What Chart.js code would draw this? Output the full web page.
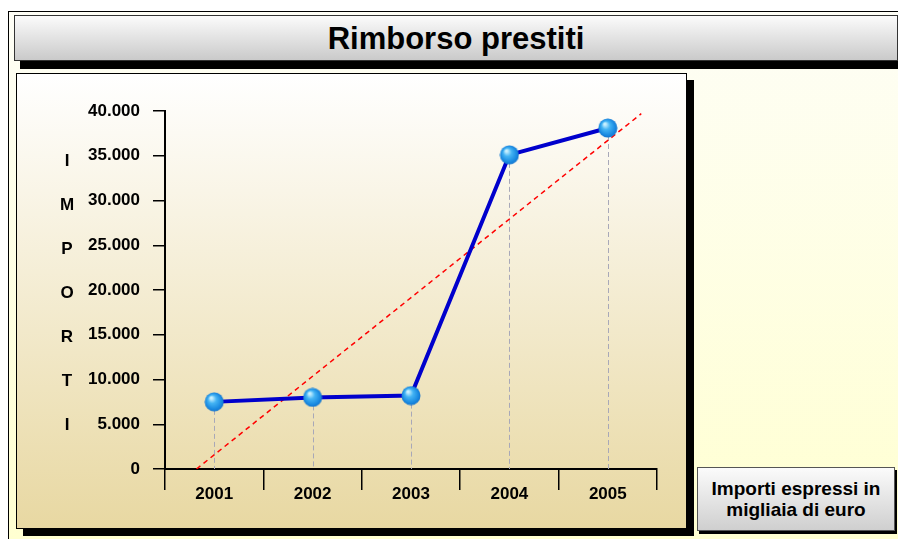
<!DOCTYPE html>
<html>
<head>
<meta charset="utf-8">
<script src="https://cdn.jsdelivr.net/npm/chart.js@4/dist/chart.umd.min.js"></script>
<style>
  body { margin: 0; width: 898px; height: 539px; background: #fff; overflow: hidden; font-family: "Liberation Sans", Arial, sans-serif; }
  #frame { position: absolute; left: 8px; top: 11px; width: 900px; height: 540px; border-left: 1px solid #000; border-top: 1px solid #000;
           background: linear-gradient(#fefef6, #ffffd0); }
  #title { position: absolute; left: 14px; top: 15px; width: 882px; height: 44px; border: 1px solid #333;
           background: linear-gradient(#fbfbfb, #cacaca); box-shadow: 6px 8px 0 #000;
           text-align: center; font-weight: bold; font-size: 31px; line-height: 46px; color: #000; }
  #panel { position: absolute; left: 16px; top: 73px; width: 669px; height: 454px; border: 1px solid #000;
           background: linear-gradient(#ffffff, #e8d8a2); box-shadow: 7px 7px 0 #000; }
  #note { position: absolute; left: 697px; top: 467px; width: 198px; height: 64px; border: 1px solid #555;
          background: linear-gradient(#fbfbfb, #cfcfcf); box-shadow: 2px 3px 0 #000;
          text-align: center; font-weight: bold; font-size: 19px; line-height: 21px; box-sizing: border-box; }
  #note div { padding-top: 10px; }
</style>
</head>
<body>
<div id="frame"></div>
<div id="title">Rimborso prestiti</div>
<div id="panel"><canvas id="chart" width="669" height="454"></canvas></div>
<div id="note"><div>Importi espressi in<br>migliaia di euro</div></div>
<script>
var anni = ['2001', '2002', '2003', '2004', '2005'];
var importi = [7500, 8000, 8200, 35100, 38100];
// linea di tendenza (inizio e fine)
var tendenzaX = [-0.18, 4.34];
var tendenzaY = [0, 39700];
var asseTitolo = ['I', 'M', 'P', 'O', 'R', 'T', 'I'];
var yMax = 40000, yStep = 5000;

function formatta(v) {
    return v.toString().replace(/\B(?=(\d{3})+(?!\d))/g, '.');
}

// pallina blu
var sfera = document.createElement('canvas');
sfera.width = 20; sfera.height = 20;
var sc = sfera.getContext('2d');
var g = sc.createRadialGradient(7, 6, 1, 10, 10, 10);
g.addColorStop(0, '#c8f0ff');
g.addColorStop(0.35, '#44b4f4');
g.addColorStop(0.8, '#1888e0');
g.addColorStop(1, '#1470c8');
sc.fillStyle = g;
sc.beginPath(); sc.arc(10, 10, 9.5, 0, Math.PI * 2); sc.fill();

var lineeVerticali = {
    id: 'lineeVerticali',
    beforeDatasetsDraw: function(chart) {
        var ctx = chart.ctx;
        var y0 = chart.scales.y.getPixelForValue(0);
        ctx.save();
        ctx.strokeStyle = '#a8a8b8';
        ctx.lineWidth = 1;
        ctx.setLineDash([5, 3]);
        chart.getDatasetMeta(1).data.forEach(function(p) {
            ctx.beginPath();
            ctx.moveTo(Math.round(p.x) + 0.5, p.y);
            ctx.lineTo(Math.round(p.x) + 0.5, y0);
            ctx.stroke();
        });
        ctx.restore();
    }
};

var titoloVerticale = {
    id: 'titoloVerticale',
    afterDraw: function(chart) {
        var ctx = chart.ctx;
        var a = chart.chartArea;
        var passo = (a.bottom - a.top) * 44 / 358;
        var centro = (a.top + a.bottom) / 2 + 3;
        ctx.save();
        ctx.fillStyle = '#000';
        ctx.font = 'bold 17px "Liberation Sans", Arial, sans-serif';
        ctx.textAlign = 'center';
        ctx.textBaseline = 'middle';
        asseTitolo.forEach(function(l, i) {
            ctx.fillText(l, 50, centro + (i - 3) * passo);
        });
        ctx.restore();
    }
};

new Chart(document.getElementById('chart').getContext('2d'), {
    type: 'line',
    data: {
        labels: anni,
        datasets: [{
            label: 'Tendenza',
            data: tendenzaX.map(function(x, i) { return { x: x, y: tendenzaY[i] }; }),
            xAxisID: 'xt',
            borderColor: '#ff0000',
            borderWidth: 1.5,
            borderDash: [5, 4],
            pointRadius: 0,
            fill: false,
            order: 2
        }, {
            label: 'Rimborso',
            data: importi,
            borderColor: '#0000cc',
            borderWidth: 4,
            pointStyle: sfera,
            pointRadius: 10,
            fill: false,
            order: 1
        }]
    },
    options: {
        responsive: false,
        animation: false,
        layout: { padding: { top: 37, right: 29, left: 0, bottom: 0 } },
        plugins: { legend: { display: false }, tooltip: { enabled: false } },
        scales: {
            x: {
                offset: true,
                grid: { offset: true, drawOnChartArea: false, tickLength: 21, color: '#000', lineWidth: 1.5 },
                border: { color: '#000', width: 2 },
                ticks: { color: '#000', font: { family: '"Liberation Sans", Arial, sans-serif', size: 17, weight: 'bold' }, padding: -6 },
                afterFit: function(s) { s.height = 59; }
            },
            xt: {
                type: 'linear', display: false, min: -0.5, max: 4.5
            },
            y: {
                min: 0, max: yMax,
                grid: { drawOnChartArea: false, tickLength: 12, color: '#000', lineWidth: 1.5 },
                border: { color: '#000', width: 2 },
                ticks: {
                    stepSize: yStep, color: '#000', padding: 13,
                    font: { family: '"Liberation Sans", Arial, sans-serif', size: 17, weight: 'bold' },
                    callback: function(v) { return formatta(v); }
                },
                afterFit: function(s) { s.width = 148; }
            }
        }
    },
    plugins: [lineeVerticali, titoloVerticale]
});
</script>
</body>
</html>
